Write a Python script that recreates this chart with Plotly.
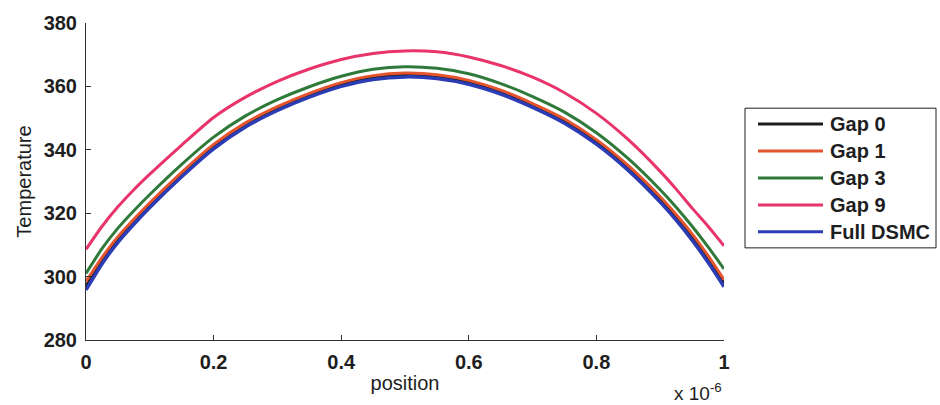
import plotly.graph_objects as go

# Sample positions across the gap (units of 1e-6 m)
position = [0, 0.025, 0.05, 0.075, 0.1, 0.15, 0.2, 0.25, 0.3, 0.35, 0.4, 0.45, 0.5,
            0.55, 0.6, 0.65, 0.7, 0.75, 0.8, 0.85, 0.9, 0.925, 0.95, 0.975, 1.0]

full_dsmc = [295.8, 304.0, 310.8, 316.5, 321.8, 331.5, 340.3, 347.2, 352.4, 356.6, 360.0, 362.2, 363.0,
             362.5, 360.7, 357.6, 353.4, 348.4, 341.8, 333.5, 323.5, 317.8, 311.5, 304.5, 296.8]
gap0 = [297.0, 304.8, 311.5, 317.1, 322.4, 332.1, 340.9, 347.7, 352.9, 357.1, 360.5, 362.7, 363.5,
        363.0, 361.2, 358.1, 353.9, 348.9, 342.4, 334.1, 324.2, 318.6, 312.4, 305.4, 297.9]
gap1 = [298.5, 306.0, 312.6, 318.1, 323.3, 332.9, 341.7, 348.5, 353.6, 357.8, 361.2, 363.4, 364.2,
        363.7, 361.9, 358.8, 354.6, 349.7, 343.2, 335.0, 325.2, 319.6, 313.5, 306.6, 299.0]
gap3 = [301.0, 308.8, 315.3, 320.8, 325.9, 335.4, 344.0, 350.7, 355.8, 359.9, 363.2, 365.4, 366.2,
        365.7, 364.0, 360.9, 356.8, 351.9, 345.4, 337.2, 327.4, 321.9, 315.9, 309.4, 302.4]
gap9 = [308.6, 315.8, 322.0, 327.4, 332.3, 341.5, 350.2, 356.6, 361.6, 365.5, 368.5, 370.4, 371.2,
        370.9, 369.3, 366.6, 362.9, 358.0, 351.5, 343.2, 333.2, 327.6, 321.6, 315.9, 309.7]

series_names = ["Gap 0", "Gap 1", "Gap 3", "Gap 9", "Full DSMC"]
series_values = [gap0, gap1, gap3, gap9, full_dsmc]
series_colors = ["#1c1c1c", "#e4552e", "#2f7a3a", "#e8346a", "#2c3cb4"]
series_widths = [3, 3, 3, 3, 3.5]

x_ticks = [0, 0.2, 0.4, 0.6, 0.8, 1.0]
x_tick_text = ["0", "0.2", "0.4", "0.6", "0.8", "1"]
y_ticks = [280, 300, 320, 340, 360, 380]

FONT = "Liberation Sans, Arial, sans-serif"
INK = "#1e1e1e"

# plot area in pixels (figure is 940 x 405)
L, R, T, B = 86, 724, 20, 340


def px_x(p):
    return (p - L) / (R - L)


def px_y(p):
    return 1 - (p - T) / (B - T)


fig = go.Figure()
for name, vals, color, width in zip(series_names, series_values, series_colors, series_widths):
    fig.add_trace(go.Scatter(
        x=position, y=vals, name=name, mode="lines", showlegend=False,
        line=dict(color=color, width=width, shape="spline", smoothing=0.6),
    ))

# boxed key to the right of the axes
box_l, box_r, box_t, box_b = 745, 936, 106, 247
row_y0, row_dy = 122, 27.2
fig.add_shape(type="rect", xref="paper", yref="paper",
              x0=px_x(box_l), x1=px_x(box_r), y0=px_y(box_b), y1=px_y(box_t),
              line=dict(color=INK, width=1), fillcolor="white", layer="above")
for i, (name, color) in enumerate(zip(series_names, series_colors)):
    yy = px_y(row_y0 + i * row_dy)
    fig.add_shape(type="line", xref="paper", yref="paper",
                  x0=px_x(758), x1=px_x(823), y0=yy, y1=yy,
                  line=dict(color=color, width=3), layer="above")
    fig.add_annotation(xref="paper", yref="paper", x=px_x(828), y=yy,
                       xanchor="left", yanchor="middle", text=name, showarrow=False,
                       font=dict(family=FONT, size=20, color=INK, weight="bold"))

fig.update_layout(
    width=940, height=405,
    margin=dict(l=L, r=940 - R, t=T, b=405 - B),
    paper_bgcolor="white", plot_bgcolor="white",
    font=dict(family=FONT, color=INK),
    showlegend=False,
)

fig.update_xaxes(
    range=[0, 1], tickvals=x_ticks, ticktext=x_tick_text,
    showgrid=False, zeroline=False, showline=True, linecolor="#333333", linewidth=1,
    ticks="inside", ticklen=5, tickcolor="#333333", ticklabelstandoff=4,
    tickfont=dict(family=FONT, size=20, color=INK, weight="bold"),
    title=dict(text="position", font=dict(family=FONT, size=20, color=INK), standoff=3),
)
fig.update_yaxes(
    range=[280, 380], tickvals=y_ticks,
    showgrid=False, zeroline=False, showline=True, linecolor="#333333", linewidth=1,
    ticks="inside", ticklen=5, tickcolor="#333333", ticklabelstandoff=4,
    tickfont=dict(family=FONT, size=20, color=INK, weight="bold"),
    title=dict(text="Temperature", font=dict(family=FONT, size=20, color=INK), standoff=6),
)

fig.add_annotation(
    xref="paper", yref="paper", x=1.0, y=0, xanchor="right", yanchor="top", yshift=-38,
    text="x 10<sup>-6</sup>", showarrow=False,
    font=dict(family=FONT, size=19, color=INK),
)

fig.write_html("out.html")
